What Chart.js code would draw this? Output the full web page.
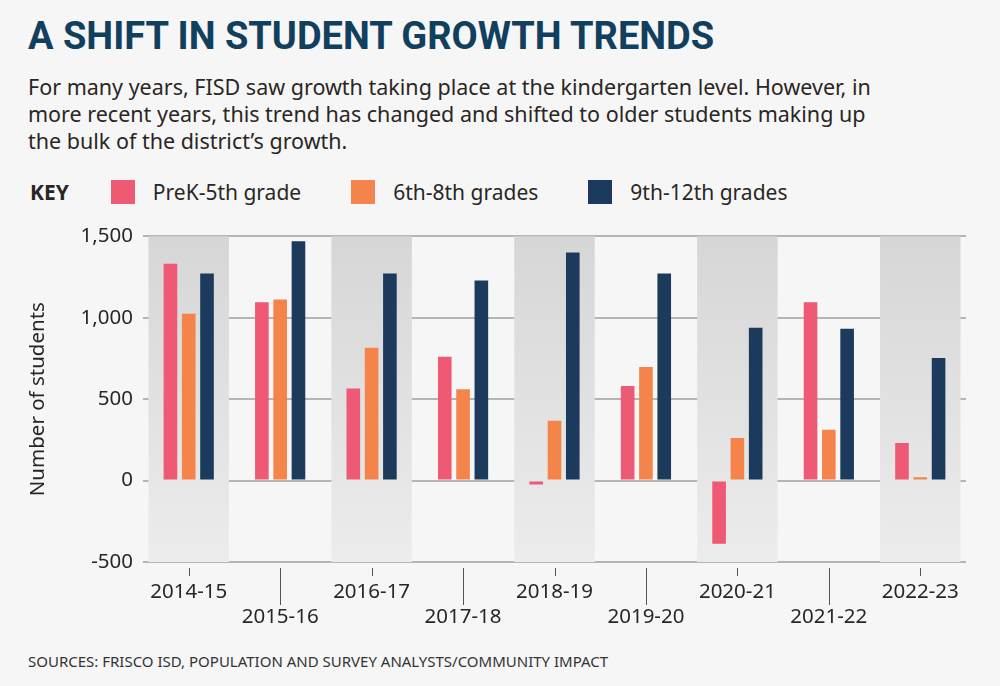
<!DOCTYPE html>
<html><head><meta charset="utf-8">
<script src="https://cdn.jsdelivr.net/npm/chart.js@4"></script>
<style>
body{margin:0;background:#f6f6f6;width:1000px;height:686px;overflow:hidden;position:relative;font-family:"Noto Sans",sans-serif;color:#2a2624}
#title{position:absolute;left:28px;top:14px;font-family:"Liberation Sans Narrow","Roboto",sans-serif;font-weight:bold;font-size:38px;color:#11405f;letter-spacing:0px;white-space:nowrap}
#sub{position:absolute;left:28px;top:73px;width:960px;font-size:21.5px;line-height:27px}
#key{position:absolute;left:30px;top:178px;font-size:21px;display:flex;align-items:center;white-space:nowrap}
#key b{margin-right:42px}
.sw{width:24px;height:24px;display:inline-block;margin-right:18px}
.it{display:flex;align-items:center;margin-right:50px}
#src{position:absolute;left:28px;top:651px;font-size:15px;color:#333}
#wrap{position:absolute;left:0;top:214px;width:1000px;height:426px}
</style></head><body>
<div id="title">A SHIFT IN STUDENT GROWTH TRENDS</div>
<div id="sub">For many years, FISD saw growth taking place at the kindergarten level. However, in<br>more recent years, this trend has changed and shifted to older students making up<br>the bulk of the district’s growth.</div>
<div id="key"><b>KEY</b>
<span class="it"><span class="sw" style="background:#ee5a73"></span>PreK-5th grade</span>
<span class="it"><span class="sw" style="background:#f5844a"></span>6th-8th grades</span>
<span class="it"><span class="sw" style="background:#1b3a5c"></span>9th-12th grades</span></div>
<div id="wrap"><canvas id="c"></canvas></div>
<div id="src">SOURCES: FRISCO ISD, POPULATION AND SURVEY ANALYSTS/COMMUNITY IMPACT</div>
<script>
const categories=["2014-15","2015-16","2016-17","2017-18","2018-19","2019-20","2020-21","2021-22","2022-23"];
const prek5=[1332,1095,565,761,-24,581,-388,1095,230];
const g68=[1024,1112,816,561,367,698,261,312,20];
const g912=[1271,1469,1271,1228,1401,1271,938,932,753];
const yTicks=[-500,0,500,1000,1500];

const bands={id:'bands',beforeDatasetsDraw(ch){
  const {ctx,chartArea:a,scales:{x}}=ch;const w=(a.right-a.left)/categories.length;
  ctx.save();
  const gr=ctx.createLinearGradient(0,a.top,0,a.bottom);
  gr.addColorStop(0,'#d6d6d6');gr.addColorStop(1,'#ececec');
  ctx.fillStyle=gr;
  categories.forEach((c,i)=>{if(i%2===0){const cx=x.getPixelForValue(i);ctx.fillRect(cx-w*0.44,a.top,w*0.88,a.bottom-a.top);}});
  ctx.restore();
},afterDraw(ch){
  const {ctx,chartArea:a,scales:{x}}=ch;ctx.save();ctx.strokeStyle='#555';ctx.lineWidth=1;
  categories.forEach((c,i)=>{const cx=Math.round(x.getPixelForValue(i))+0.5;ctx.beginPath();ctx.moveTo(cx,a.bottom+6);ctx.lineTo(cx,a.bottom+(i%2?43:14));ctx.stroke();});
  ctx.restore();
}};

new Chart(document.getElementById('c'),{type:'bar',
data:{labels:categories.map((c,i)=>i%2?['',c]:c),datasets:[
 {label:'PreK-5th grade',data:prek5,backgroundColor:'#ee5a73'},
 {label:'6th-8th grades',data:g68,backgroundColor:'#f5844a'},
 {label:'9th-12th grades',data:g912,backgroundColor:'#1b3a5c'}]},
options:{responsive:true,maintainAspectRatio:false,animation:false,
 layout:{padding:{left:22,right:34,top:9,bottom:0}},
 datasets:{bar:{categoryPercentage:0.6,barPercentage:0.745}},
 plugins:{legend:{display:false},tooltip:{enabled:false}},
 scales:{
  x:{grid:{display:false},border:{display:false},
   ticks:{font:{family:'Noto Sans',size:20.5},color:'#2a2624',padding:10,maxRotation:0,autoSkip:false},
   afterFit(s){s.height=78;}},
  y:{min:-500,max:1500,afterBuildTicks(s){s.ticks=yTicks.map(v=>({value:v}));},
   grid:{color:'#b5b5b5',lineWidth:2,drawTicks:false},border:{display:false},
   ticks:{font:{family:'Noto Sans',size:20.5},color:'#2a2624',padding:10,callback:v=>v.toLocaleString('en-US')},
   title:{display:true,text:'Number of students',font:{family:'Noto Sans',size:20.5},color:'#2a2624'},
   afterFit(s){s.width=121;}}
 }},
plugins:[bands]});
</script></body></html>
